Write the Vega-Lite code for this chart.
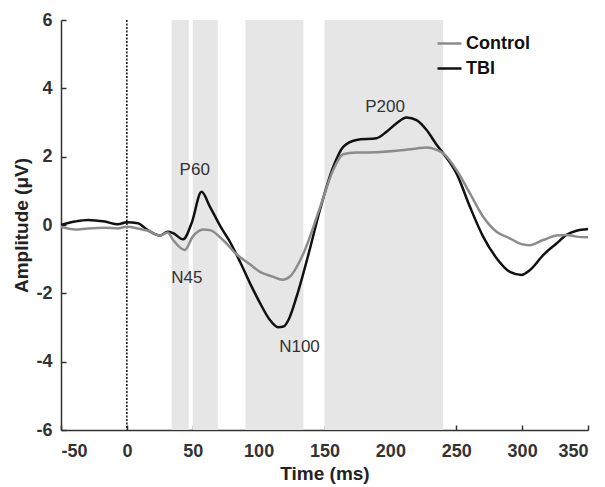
{
  "$schema": "https://vega.github.io/schema/vega-lite/v6.json",
  "autosize": "none",
  "padding": {"left": 61, "top": 20, "right": 17, "bottom": 57},
  "width": 527,
  "height": 410,
  "background": "white",
  "config": {
    "view": {"stroke": null},
    "font": "Liberation Sans",
    "axis": {
      "grid": false,
      "domainColor": "#333333",
      "domainWidth": 1.5,
      "tickColor": "#333333",
      "tickWidth": 1.5,
      "tickSize": -5,
      "labelFont": "Liberation Sans",
      "labelFontSize": 18,
      "labelFontWeight": "bold",
      "labelColor": "#333333",
      "labelExpr": "'' + datum.value",
      "titleFont": "Liberation Sans",
      "titleFontSize": 19,
      "titleFontWeight": "bold",
      "titleColor": "#222222"
    },
    "legend": {
      "orient": "none",
      "legendX": 375,
      "legendY": 10,
      "symbolType": "stroke",
      "symbolSize": 576,
      "symbolStrokeWidth": 2.5,
      "labelFont": "Liberation Sans",
      "labelFontSize": 18,
      "labelFontWeight": "bold",
      "labelColor": "#111111",
      "labelOffset": 3,
      "rowPadding": 2,
      "title": null
    }
  },
  "datasets": {
    "bands": [
      {"start": 34, "end": 47},
      {"start": 50, "end": 69},
      {"start": 90, "end": 134},
      {"start": 150, "end": 240}
    ],
    "onset": [{"t": 0}],
    "labels": [
      {"t": 51.5, "amp": 1.6, "label": "P60"},
      {"t": 45.5, "amp": -1.55, "label": "N45"},
      {"t": 131, "amp": -3.57, "label": "N100"},
      {"t": 196, "amp": 3.45, "label": "P200"}
    ],
    "erp": [
      {"t": -50, "amp": 0.0, "group": "TBI"},
      {"t": -39.5, "amp": 0.1, "group": "TBI"},
      {"t": -29.6, "amp": 0.15, "group": "TBI"},
      {"t": -16.7, "amp": 0.1, "group": "TBI"},
      {"t": -6.8, "amp": 0.02, "group": "TBI"},
      {"t": 0, "amp": 0.08, "group": "TBI"},
      {"t": 8.3, "amp": 0.05, "group": "TBI"},
      {"t": 15.9, "amp": -0.15, "group": "TBI"},
      {"t": 25, "amp": -0.31, "group": "TBI"},
      {"t": 31, "amp": -0.2, "group": "TBI"},
      {"t": 35.1, "amp": -0.24, "group": "TBI"},
      {"t": 42.7, "amp": -0.42, "group": "TBI"},
      {"t": 49.1, "amp": 0.05, "group": "TBI"},
      {"t": 56.7, "amp": 0.97, "group": "TBI"},
      {"t": 63, "amp": 0.54, "group": "TBI"},
      {"t": 71.9, "amp": -0.1, "group": "TBI"},
      {"t": 78.2, "amp": -0.49, "group": "TBI"},
      {"t": 85.8, "amp": -1.07, "group": "TBI"},
      {"t": 93.4, "amp": -1.7, "group": "TBI"},
      {"t": 101, "amp": -2.28, "group": "TBI"},
      {"t": 108, "amp": -2.75, "group": "TBI"},
      {"t": 114.8, "amp": -2.99, "group": "TBI"},
      {"t": 119, "amp": -2.97, "group": "TBI"},
      {"t": 123, "amp": -2.75, "group": "TBI"},
      {"t": 128.8, "amp": -2.1, "group": "TBI"},
      {"t": 138.9, "amp": -0.7, "group": "TBI"},
      {"t": 146.5, "amp": 0.44, "group": "TBI"},
      {"t": 156.6, "amp": 1.7, "group": "TBI"},
      {"t": 164.2, "amp": 2.29, "group": "TBI"},
      {"t": 174.3, "amp": 2.49, "group": "TBI"},
      {"t": 189.5, "amp": 2.54, "group": "TBI"},
      {"t": 197.1, "amp": 2.73, "group": "TBI"},
      {"t": 204.7, "amp": 2.98, "group": "TBI"},
      {"t": 212.3, "amp": 3.15, "group": "TBI"},
      {"t": 219.9, "amp": 3.07, "group": "TBI"},
      {"t": 227.5, "amp": 2.78, "group": "TBI"},
      {"t": 235.1, "amp": 2.35, "group": "TBI"},
      {"t": 240.1, "amp": 2.1, "group": "TBI"},
      {"t": 250.2, "amp": 1.51, "group": "TBI"},
      {"t": 260.3, "amp": 0.54, "group": "TBI"},
      {"t": 270.4, "amp": -0.34, "group": "TBI"},
      {"t": 280.6, "amp": -0.97, "group": "TBI"},
      {"t": 290.7, "amp": -1.37, "group": "TBI"},
      {"t": 299.6, "amp": -1.46, "group": "TBI"},
      {"t": 305.9, "amp": -1.32, "group": "TBI"},
      {"t": 316, "amp": -0.88, "group": "TBI"},
      {"t": 326.1, "amp": -0.54, "group": "TBI"},
      {"t": 333.7, "amp": -0.29, "group": "TBI"},
      {"t": 341.3, "amp": -0.17, "group": "TBI"},
      {"t": 347.6, "amp": -0.13, "group": "TBI"},
      {"t": 350, "amp": -0.12, "group": "TBI"},
      {"t": -50, "amp": -0.05, "group": "Control"},
      {"t": -39.5, "amp": -0.13, "group": "Control"},
      {"t": -29.6, "amp": -0.1, "group": "Control"},
      {"t": -16.7, "amp": -0.08, "group": "Control"},
      {"t": -6.8, "amp": -0.1, "group": "Control"},
      {"t": 0, "amp": -0.05, "group": "Control"},
      {"t": 8.3, "amp": -0.1, "group": "Control"},
      {"t": 15.9, "amp": -0.17, "group": "Control"},
      {"t": 25, "amp": -0.31, "group": "Control"},
      {"t": 31, "amp": -0.22, "group": "Control"},
      {"t": 35.1, "amp": -0.44, "group": "Control"},
      {"t": 44, "amp": -0.73, "group": "Control"},
      {"t": 50, "amp": -0.34, "group": "Control"},
      {"t": 58, "amp": -0.13, "group": "Control"},
      {"t": 63, "amp": -0.15, "group": "Control"},
      {"t": 73, "amp": -0.44, "group": "Control"},
      {"t": 83, "amp": -0.85, "group": "Control"},
      {"t": 93.4, "amp": -1.15, "group": "Control"},
      {"t": 101, "amp": -1.37, "group": "Control"},
      {"t": 110.8, "amp": -1.51, "group": "Control"},
      {"t": 118, "amp": -1.6, "group": "Control"},
      {"t": 124, "amp": -1.5, "group": "Control"},
      {"t": 133.8, "amp": -0.85, "group": "Control"},
      {"t": 146.5, "amp": 0.5, "group": "Control"},
      {"t": 156.6, "amp": 1.61, "group": "Control"},
      {"t": 164.2, "amp": 2.07, "group": "Control"},
      {"t": 174.3, "amp": 2.12, "group": "Control"},
      {"t": 189.5, "amp": 2.13, "group": "Control"},
      {"t": 204.7, "amp": 2.17, "group": "Control"},
      {"t": 219.9, "amp": 2.24, "group": "Control"},
      {"t": 227.5, "amp": 2.27, "group": "Control"},
      {"t": 235.1, "amp": 2.2, "group": "Control"},
      {"t": 240.1, "amp": 2.1, "group": "Control"},
      {"t": 250.2, "amp": 1.61, "group": "Control"},
      {"t": 260.3, "amp": 0.93, "group": "Control"},
      {"t": 270.4, "amp": 0.24, "group": "Control"},
      {"t": 280.6, "amp": -0.2, "group": "Control"},
      {"t": 290.7, "amp": -0.39, "group": "Control"},
      {"t": 299.6, "amp": -0.56, "group": "Control"},
      {"t": 305.9, "amp": -0.59, "group": "Control"},
      {"t": 316, "amp": -0.44, "group": "Control"},
      {"t": 326.1, "amp": -0.31, "group": "Control"},
      {"t": 333.7, "amp": -0.29, "group": "Control"},
      {"t": 341.3, "amp": -0.34, "group": "Control"},
      {"t": 350, "amp": -0.36, "group": "Control"}
    ]
  },
  "layer": [
    {
      "data": {"name": "bands"},
      "mark": {"type": "rect", "color": "#e6e6e6"},
      "encoding": {
        "x": {"field": "start", "type": "quantitative", "scale": {"domain": [-50, 350], "nice": false, "zero": false},
              "axis": {"title": "Time (ms)", "values": [-50, 0, 50, 100, 150, 200, 250, 300, 350], "labelPadding": 17, "titlePadding": 4}},
        "x2": {"field": "end"}
      }
    },
    {
      "data": {"name": "onset"},
      "mark": {"type": "rule", "color": "#111111", "strokeWidth": 1.5, "strokeDash": [2, 1.5]},
      "encoding": {
        "x": {"field": "t", "type": "quantitative"}
      }
    },
    {
      "data": {"name": "erp"},
      "mark": {"type": "line", "strokeWidth": 2.5, "interpolate": "monotone"},
      "encoding": {
        "x": {"field": "t", "type": "quantitative"},
        "y": {"field": "amp", "type": "quantitative", "scale": {"domain": [-6, 6], "nice": false},
              "axis": {"title": "Amplitude (μV)", "values": [-6, -4, -2, 0, 2, 4, 6], "labelPadding": 14, "titlePadding": 4}},
        "color": {"field": "group", "type": "nominal", "scale": {"domain": ["Control", "TBI"], "range": ["#8c8c8c", "#111111"]}},
        "order": {"field": "t", "type": "quantitative"}
      }
    },
    {
      "data": {"name": "labels"},
      "mark": {"type": "text", "font": "Liberation Sans", "fontSize": 17, "color": "#333333"},
      "encoding": {
        "x": {"field": "t", "type": "quantitative"},
        "y": {"field": "amp", "type": "quantitative"},
        "text": {"field": "label"}
      }
    }
  ]
}
